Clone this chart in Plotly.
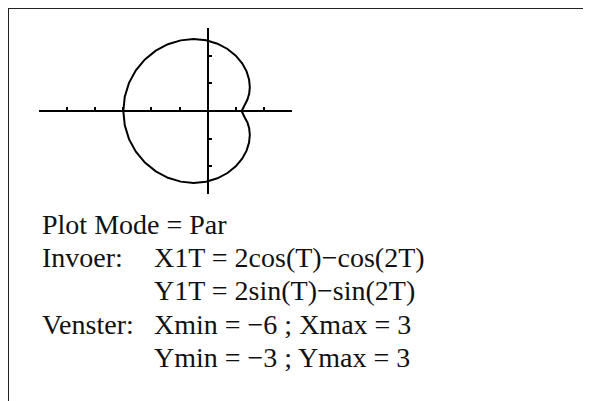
import plotly.graph_objects as go

# Curve points
curve_x = [1.21, 1.30, 1.414, 1.476, 1.5, 1.472, 1.384, 1.227,
           1.0, 0.705, 0.348, -0.058, -0.5, -0.959, -1.414, -1.846, -2.232, -2.555, -2.798, -2.949,
           -3.0, -2.949, -2.798, -2.555, -2.232, -1.846, -1.414, -0.959, -0.5, -0.058, 0.348, 0.705,
           1.0, 1.227, 1.384, 1.472, 1.5, 1.476, 1.414, 1.30, 1.21]
curve_y = [0.0, 0.20, 0.414, 0.621, 0.866, 1.141, 1.432, 1.724,
           2.0, 2.242, 2.432, 2.555, 2.598, 2.553, 2.414, 2.183, 1.866, 1.472, 1.018, 0.520,
           0.0, -0.520, -1.018, -1.472, -1.866, -2.183, -2.414, -2.553, -2.598, -2.555, -2.432, -2.242,
           -2.0, -1.724, -1.432, -1.141, -0.866, -0.621, -0.414, -0.20, 0.0]

x_window = [-6, 3]
y_window = [-3, 3]
x_ticks = [-6, -5, -4, -3, -2, -1, 0, 1, 2, 3]
y_ticks = [-3, -2, -1, 0, 1, 2, 3]

label_col = ["Plot Mode = Par", "Invoer:", "", "Venster:", ""]
value_col = ["", "X1T = 2cos(T)\u2212cos(2T)", "Y1T = 2sin(T)\u2212sin(2T)",
             "Xmin = \u22126 ; Xmax = 3", "Ymin = \u22123 ; Ymax = 3"]

W, H = 591, 401
px = lambda v: v / W
py = lambda v: 1 - v / H

xdom = [px(31), px(284)]
ydom = [py(186), py(20)]
x_zero_pos = xdom[0] + (0 - x_window[0]) / (x_window[1] - x_window[0]) * (xdom[1] - xdom[0])
y_zero_pos = ydom[0] + (0 - y_window[0]) / (y_window[1] - y_window[0]) * (ydom[1] - ydom[0])

fig = go.Figure()
fig.add_trace(go.Scatter(x=curve_x, y=curve_y, mode="lines",
                         line=dict(color="black", width=2), hoverinfo="skip", showlegend=False))

fig.update_layout(
    width=W, height=H,
    margin=dict(l=0, r=0, t=0, b=0),
    paper_bgcolor="white", plot_bgcolor="white",
    showlegend=False,
    xaxis=dict(range=x_window, domain=xdom, anchor="free", position=y_zero_pos,
               showgrid=False, zeroline=False, showticklabels=False,
               showline=True, linecolor="black", linewidth=2,
               ticks="inside", ticklen=3, tickwidth=2, tickcolor="black",
               tickmode="array", tickvals=x_ticks, fixedrange=True),
    yaxis=dict(range=y_window, domain=ydom, anchor="free", position=x_zero_pos,
               showgrid=False, zeroline=False, showticklabels=False,
               showline=True, linecolor="black", linewidth=2,
               ticks="inside", ticklen=3, tickwidth=2, tickcolor="black",
               tickmode="array", tickvals=y_ticks, fixedrange=True),
)

# frame: top and left edges only (the rest lies outside the view)
frame = dict(color="#222222", width=2)
fig.add_shape(type="line", xref="paper", yref="paper", x0=0, x1=1, y0=1, y1=1, line=frame)
fig.add_shape(type="line", xref="paper", yref="paper", x0=0, x1=0, y0=0, y1=1, line=frame)

font = dict(family="Liberation Serif, Times New Roman, serif", size=28, color="#111111")
line_mid = [216, 249.3, 282.7, 316, 349.3]
for i in range(5):
    if label_col[i]:
        fig.add_annotation(x=px(32), y=py(line_mid[i]), xref="paper", yref="paper",
                           text=label_col[i], showarrow=False, xanchor="left", yanchor="middle",
                           font=font)
    if value_col[i]:
        fig.add_annotation(x=px(144), y=py(line_mid[i]), xref="paper", yref="paper",
                           text=value_col[i], showarrow=False, xanchor="left", yanchor="middle",
                           font=font)

fig.write_html("out.html", config={"displayModeBar": False},
               post_script="document.documentElement.style.overflow='hidden';"
                           "document.body.style.overflow='hidden';")
